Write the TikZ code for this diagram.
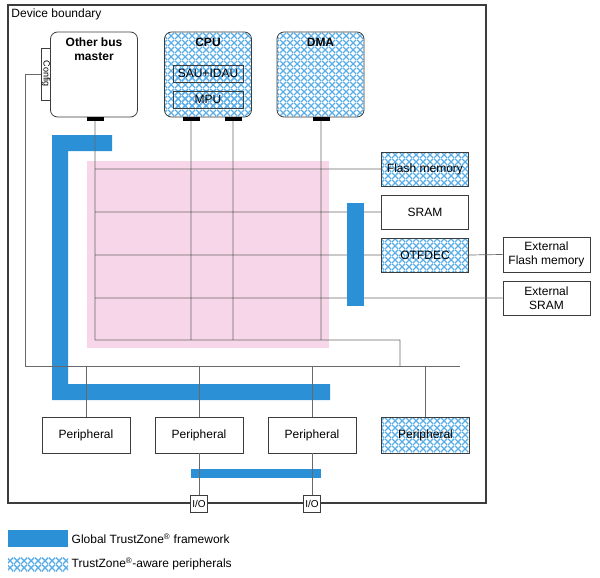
\documentclass[tikz,border=0pt]{standalone}
\usepackage{fontspec}
\setmainfont{Liberation Sans}
\usetikzlibrary{patterns.meta}

\definecolor{TZblue}{RGB}{43,144,214}
\definecolor{TZmesh}{RGB}{92,174,232}
\definecolor{MatrixPink}{RGB}{246,214,232}
\definecolor{EdgeGray}{RGB}{60,60,60}
\definecolor{WireGray}{RGB}{105,105,105}

% diagonal mesh for TrustZone-aware blocks
\tikzdeclarepattern{
  name=TZdiamond,
  type=uncolored,
  bounding box={(0pt,0pt) and (7pt,7pt)},
  tile size={(7pt,7pt)},
  code={
    \pgfsetlinewidth{1.5pt}
    \pgfpathmoveto{\pgfpoint{0pt}{0pt}}
    \pgfpathlineto{\pgfpoint{7pt}{7pt}}
    \pgfpathmoveto{\pgfpoint{0pt}{7pt}}
    \pgfpathlineto{\pgfpoint{7pt}{0pt}}
    \pgfusepath{stroke}
  }
}

\begin{document}
\begin{tikzpicture}[
          % Environment Config
          x=1pt, y=-1pt,
          font=\fontsize{12}{14}\selectfont,
          Boundary/.style={% Style for the device boundary
            draw=EdgeGray,
            line width=1.5pt,
            minimum width=478pt,
            minimum height=498pt,
            inner sep=0pt
          },
          Master/.style={% Style for the bus masters
            draw=EdgeGray,
            line width=0.8pt,
            rounded corners=7pt,
            minimum width=87pt,
            minimum height=85pt,
            inner sep=0pt
          },
          Title/.style={% Style for the bold titles
            anchor=north,
            inner sep=6pt,
            align=center,
            font=\fontsize{12}{14}\selectfont\bfseries
          },
          Block/.style={% Style for the slaves
            draw=EdgeGray,
            line width=0.8pt,
            minimum width=87pt,
            minimum height=35pt,
            inner sep=2pt,
            align=center
          },
          Aware/.style={% Style for TrustZone-aware parts
            pattern=TZdiamond,
            pattern color=TZmesh
          },
          Unit/.style={% Style for the units in the CPU
            Block, Aware,
            minimum width=70pt,
            minimum height=17pt,
            inner sep=0pt
          },
          Port/.style={% Style for the master ports
            fill=black,
            minimum width=17pt,
            minimum height=4pt,
            inner sep=0pt
          },
          Pin/.style={% Style for the I/O pads
            draw=EdgeGray,
            line width=0.8pt,
            fill=white,
            minimum size=17pt,
            inner sep=0pt,
            font=\fontsize{10}{12}\selectfont
          },
          Tab/.style={% Style for the config tab
            draw=EdgeGray,
            line width=0.8pt,
            fill=white,
            minimum width=8pt,
            minimum height=52pt,
            inner sep=0pt,
            font=\fontsize{9}{10}\selectfont
          },
          Wire/.style={% Style for the bus lines
            draw=WireGray,
            line width=0.7pt
          },
          Key/.style={% Style for the legend swatches
            minimum width=60pt,
            inner sep=0pt
          }
        ]

        \useasboundingbox (0,0) rectangle (600,578);

        %===Bus matrix and TrustZone framework===
        \fill[MatrixPink] (87,161) rectangle (329,348);
        \fill[TZblue] (52,135) -- (112,135) -- (112,151) -- (68,151)
            -- (68,384) -- (330,384) -- (330,400) -- (52,400) -- cycle;
        \fill[TZblue] (191,469) rectangle (321,478);

        %===Device===
        \node[Boundary,
            label={[anchor=north west, inner sep=4pt]north west:Device boundary}
        ] (Dev) at (247,254) {};

        %===Masters===
        \node[Master, label={[Title]north:Other bus\\master}] (OBM) at (94,74.5) {};
        \node[Tab] (Cfg) at (46,74) {\rotatebox{-90}{Config}};
        \node[Master, Aware, label={[Title]north:CPU}] (CPU) at (208,74.5) {};
        \node[Unit] (SAU) at (208,73.5) {SAU+IDAU};
        \node[Unit] (MPU) at (208,99.5) {MPU};
        \node[Master, Aware, label={[Title]north:DMA}] (DMA) at (320.5,74.5) {};
        \node[Port] (OBMp) at (95,119) {};
        \node[Port] (CPUpa) at (191,119) {};
        \node[Port] (CPUpb) at (233,119) {};
        \node[Port] (DMAp) at (321,119) {};

        %===Slaves===
        \node[Block, Aware, minimum height=34pt] (Flash) at (425,169) {Flash memory};
        \node[Block, minimum height=34pt] (SRAM) at (425,212) {SRAM};
        \node[Block, Aware, minimum height=34pt] (OTF) at (425,255) {OTFDEC};
        \node[Block] (ExtFlash) at (546.5,254.5) {External\\Flash memory};
        \node[Block, minimum height=34pt] (ExtSRAM) at (546.5,298) {External\\SRAM};

        %===Peripherals===
        \node[Block, minimum width=88pt, minimum height=36pt] (P1) at (86,435) {Peripheral};
        \node[Block, minimum width=88pt, minimum height=36pt] (P2) at (199,435) {Peripheral};
        \node[Block, minimum width=88pt, minimum height=36pt] (P3) at (312,435) {Peripheral};
        \node[Block, Aware, minimum width=88pt, minimum height=36pt] (P4) at (425.5,435) {Peripheral};
        \node[Pin] (IO1) at (199,503.5) {I/O};
        \node[Pin] (IO2) at (312,503.5) {I/O};

        % Bus corners
        \coordinate (Tap) at (400,340);
        \coordinate (BusW) at (25,366);
        \coordinate (BusE) at (460,366);

        % Draw the wires
        \draw[Wire]
        (OBMp.south)
            -- (OBMp.south |- Tap)
            -- (Tap)
            -- (Tap |- BusW)
        (CPUpa.south)
            -- (CPUpa.south |- Tap)
        (CPUpb.south)
            -- (CPUpb.south |- Tap)
        (DMAp.south)
            -- (DMAp.south |- Tap)
        (OBMp.south |- Flash.west)
            -- (Flash.west)
        (OBMp.south |- SRAM.west)
            -- (SRAM.west)
        (OBMp.south |- OTF.west)
            -- (OTF.west)
        (OTF.east)
            -- (ExtFlash.west)
        (OBMp.south |- ExtSRAM.west)
            -- (ExtSRAM.west);

        %===Peripheral bus===
        \draw[Wire]
        (Cfg.west)
            -| (BusW)
            -- (BusE)
        (P1.north |- BusW) -- (P1.north)
        (P2.north |- BusW) -- (P2.north)
        (P3.north |- BusW) -- (P3.north)
        (P4.north |- BusW) -- (P4.north)
        (P2.south) -- (IO1.north)
        (P3.south) -- (IO2.north);

        % Gate in front of the slaves
        \fill[TZblue] (347,203) rectangle (364,306);

        %===Legend===
        \node[Key, fill=TZblue, minimum height=17pt] (KeyFw) at (38,538.5) {};
        \node[anchor=west] (TxtFw) at (KeyFw.east) {Global TrustZone\textsuperscript{®} framework};
        \node[Key, Aware, minimum height=14pt] (KeyAw) at (38,564) {};
        \node[anchor=west] (TxtAw) at (KeyAw.east) {TrustZone\textsuperscript{®}-aware peripherals};

        \end{tikzpicture}
\end{document}
